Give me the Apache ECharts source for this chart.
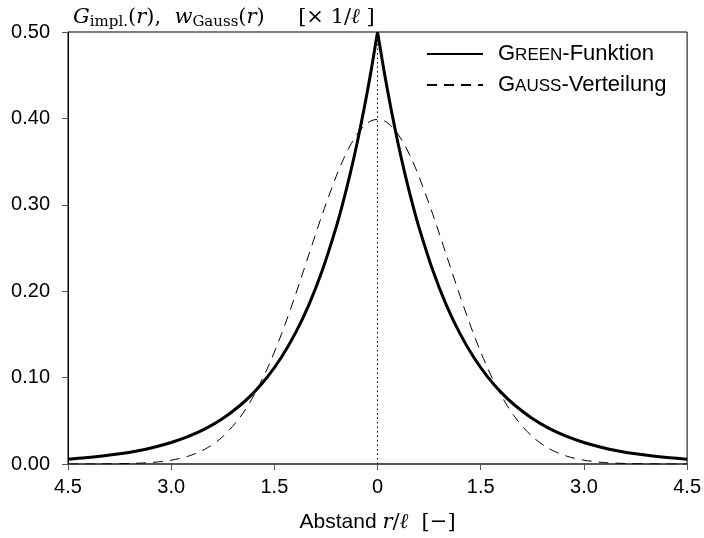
<!DOCTYPE html>
<html><head><meta charset="utf-8">
<script src="https://cdn.jsdelivr.net/npm/echarts@6/dist/echarts.min.js"></script>
<style>html,body{margin:0;padding:0;background:#fff}#c{width:704px;height:538px}</style>
</head><body><div id="c"></div>
<script>
// r / l positions
var rValues = [-4.5,-4.25,-4.0,-3.75,-3.5,-3.25,-3.0,-2.75,-2.5,-2.25,-2.0,-1.8,-1.6,-1.4,-1.2,-1.0,-0.8,-0.6,-0.5,-0.4,-0.3,-0.2,-0.1,0,
  0.1,0.2,0.3,0.4,0.5,0.6,0.8,1.0,1.2,1.4,1.6,1.8,2.0,2.25,2.5,2.75,3.0,3.25,3.5,3.75,4.0,4.25,4.5];
// GREEN function values (x 1/l)
var greenValues = [0.0056,0.0071,0.0092,0.0118,0.0151,0.0194,0.0249,0.0320,0.0410,0.0527,0.0677,0.0826,0.1009,0.1233,0.1506,0.1839,0.2247,0.2744,0.3033,0.3352,0.3704,0.4094,0.4524,0.5000,
  0.4524,0.4094,0.3704,0.3352,0.3033,0.2744,0.2247,0.1839,0.1506,0.1233,0.1009,0.0826,0.0677,0.0527,0.0410,0.0320,0.0249,0.0194,0.0151,0.0118,0.0092,0.0071,0.0056];
// GAUSS distribution values (x 1/l)
var gaussValues = [0.0000,0.0000,0.0001,0.0004,0.0009,0.0020,0.0044,0.0091,0.0175,0.0317,0.0540,0.0790,0.1109,0.1497,0.1942,0.2420,0.2897,0.3332,0.3521,0.3683,0.3814,0.3910,0.3970,0.3989,
  0.3970,0.3910,0.3814,0.3683,0.3521,0.3332,0.2897,0.2420,0.1942,0.1497,0.1109,0.0790,0.0540,0.0317,0.0175,0.0091,0.0044,0.0020,0.0009,0.0004,0.0001,0.0000,0.0000];
var xTicks = [-4.5,-3.0,-1.5,0,1.5,3.0,4.5];
var yTicks = [0,0.1,0.2,0.3,0.4,0.5];
var legendNames = ['GREEN-Funktion','GAUSS-Verteilung'];

function pairs(vals){ return rValues.map(function(r,i){return [r, vals[i]];}); }
var greenLeft = pairs(greenValues).filter(function(p){return p[0]<=0;});
var greenRight = pairs(greenValues).filter(function(p){return p[0]>=0;});

var chart = echarts.init(document.getElementById('c'));
var sans = 'Liberation Sans, Arial, sans-serif';
var serif = 'DejaVu Serif, Liberation Serif, serif';
var titleRich = {
  it:{fontFamily:serif,fontStyle:'italic',fontWeight:'normal',fontSize:21,color:'#000'},
  rm:{fontFamily:serif,fontWeight:'normal',fontSize:21,color:'#000'},
  sub:{fontFamily:serif,fontWeight:'normal',fontSize:15,color:'#000',padding:[10,0,0,0]}
};
var nameRich = {
  it:{fontFamily:serif,fontStyle:'italic',fontWeight:'normal',fontSize:21,color:'#000'},
  rm:{fontFamily:serif,fontWeight:'normal',fontSize:21,color:'#000'},
  sans:{fontFamily:sans,fontWeight:'normal',fontSize:21,color:'#000'}
};
chart.setOption({
  animation:false,
  backgroundColor:'#fff',
  title:{
    left:68, top:0,
    text:'{it|G}{sub|impl.}{rm|(}{it|r}{rm|),  }{it|w}{sub|Gauss}{rm|(}{it|r}{rm|)     [× 1/}{it|ℓ}{rm| ]}',
    textStyle:{fontWeight:'normal',rich:titleRich}
  },
  legend:{
    orient:'vertical', left:421, top:38, itemWidth:56, itemHeight:14, itemGap:9,
    data:legendNames,
    itemStyle:{opacity:0},
    formatter:function(n){
      if(n===legendNames[0]) return '{c|G}{s|REEN}{c|-Funktion}';
      return '{c|G}{s|AUSS}{c|-Verteilung}';
    },
    textStyle:{padding:[0,0,0,10],rich:{c:{fontFamily:sans,fontSize:22,color:'#000'},s:{fontFamily:sans,fontSize:17,color:'#000',padding:[3,0,0,0]}}}
  },
  grid:{left:68,right:16,top:32,bottom:72,show:true,borderColor:'#000',borderWidth:1},
  xAxis:{
    type:'value', min:-4.5, max:4.5, interval:1.5,
    axisLine:{show:true,onZero:false,lineStyle:{color:'#555',width:2}},
    axisTick:{show:true,length:6,lineStyle:{color:'#555',width:1}},
    splitLine:{show:false},
    axisLabel:{fontFamily:sans,fontSize:20,color:'#000',margin:13,
      formatter:function(v){return v===0?'0':Math.abs(v).toFixed(1);}},
    name:'{sans|Abstand }{it|r}{rm|/}{it|ℓ}{rm|  [−]}', nameLocation:'middle', nameGap:48,
    nameTextStyle:{rich:nameRich}
  },
  yAxis:{
    type:'value', min:0, max:0.5, interval:0.1,
    axisLine:{show:true,onZero:false,lineStyle:{color:'#000',width:1}},
    axisTick:{show:true,length:6,lineStyle:{color:'#555',width:1}},
    splitLine:{show:false},
    axisLabel:{fontFamily:sans,fontSize:20,color:'#000',margin:18,
      formatter:function(v){return v.toFixed(2);}}
  },
  series:[
    {name:legendNames[0],type:'line',data:greenLeft,symbol:'none',smooth:0.3,
      lineStyle:{color:'#000',width:3},itemStyle:{color:'#000'},
      markLine:{silent:true,symbol:'none',label:{show:false},
        lineStyle:{color:'#000',width:1,type:[1.5,3]},data:[{xAxis:0}]}},
    {name:legendNames[0],type:'line',data:greenRight,symbol:'none',smooth:0.3,
      lineStyle:{color:'#000',width:3},itemStyle:{color:'#000'}},
    {name:legendNames[1],type:'line',data:pairs(gaussValues),symbol:'none',smooth:0.3,
      lineStyle:{color:'#000',width:1,type:[10,7]},itemStyle:{color:'#000'}}
  ]
});
</script></body></html>
